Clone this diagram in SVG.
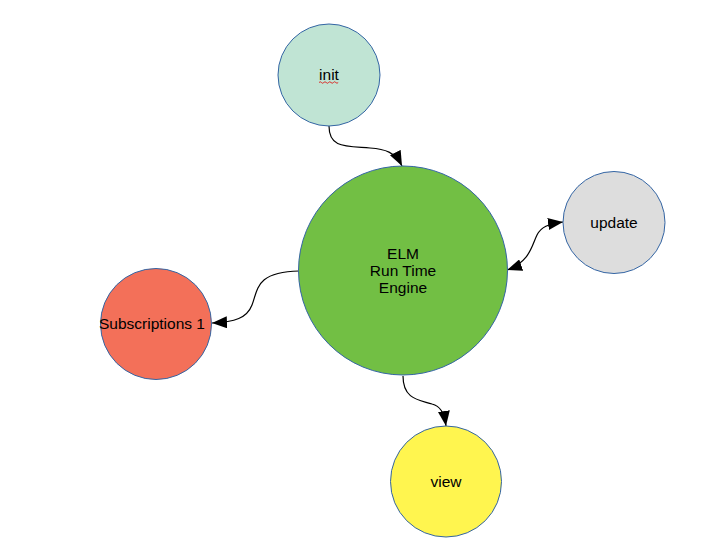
<svg xmlns="http://www.w3.org/2000/svg" width="727" height="553" viewBox="0 0 727 553">
<defs>
<style>
.node circle{stroke:#3465a4;stroke-width:1}
.node text{font-family:"Liberation Sans",Arial,sans-serif;font-size:15.5px;fill:#000;text-anchor:middle}
.conn{fill:none;stroke:#000;stroke-width:1.2}
</style>
<marker id="ah" viewBox="0 0 15 12" refX="15" refY="6" markerWidth="15" markerHeight="12" markerUnits="userSpaceOnUse" orient="auto-start-reverse">
<path d="M0,0 L15,6 L0,12 z" fill="#000"/>
</marker>
</defs>
<rect width="727" height="553" fill="#fff"/>
<g id="connectors">
<path class="conn" d="M329,126 C329,148 345,146 370,148 C385,149 395,152 402,166" marker-end="url(#ah)"/>
<path class="conn" d="M507,270 C530,262 532,245 537,235 C541,227 548,224 563,222" marker-start="url(#ah)" marker-end="url(#ah)"/>
<path class="conn" d="M299,271 C255,272 258,290 252,305 C247,318 235,322 212,323" marker-end="url(#ah)"/>
<path class="conn" d="M403,376 C403,400 420,400 432,404 C440,406 444,412 446,426" marker-end="url(#ah)"/>
</g>
<g id="init" class="node">
<circle cx="329" cy="75" r="51" fill="#c0e4d4"/>
<text x="329" y="80">init</text>
<path d="M319,82.5 q1.2,-1.5 2.4,0 t2.4,0 t2.4,0 t2.4,0 t2.4,0 t2.4,0 t2.4,0 t2.4,0" fill="none" stroke="#e00000" stroke-width="0.8"/>
</g>
<g id="elm" class="node">
<circle cx="403" cy="270.5" r="104.5" fill="#72bf44"/>
<text x="403" y="259">ELM</text>
<text x="403" y="276">Run Time</text>
<text x="403" y="292.5">Engine</text>
</g>
<g id="update" class="node">
<circle cx="614" cy="222.5" r="51" fill="#dddddd"/>
<text x="614" y="228">update</text>
</g>
<g id="subscriptions" class="node">
<circle cx="156" cy="324" r="55.5" fill="#f37059"/>
<text x="152" y="329">Subscriptions 1</text>
</g>
<g id="view" class="node">
<circle cx="446" cy="481.5" r="55.5" fill="#fff54f"/>
<text x="446" y="487">view</text>
</g>
</svg>
